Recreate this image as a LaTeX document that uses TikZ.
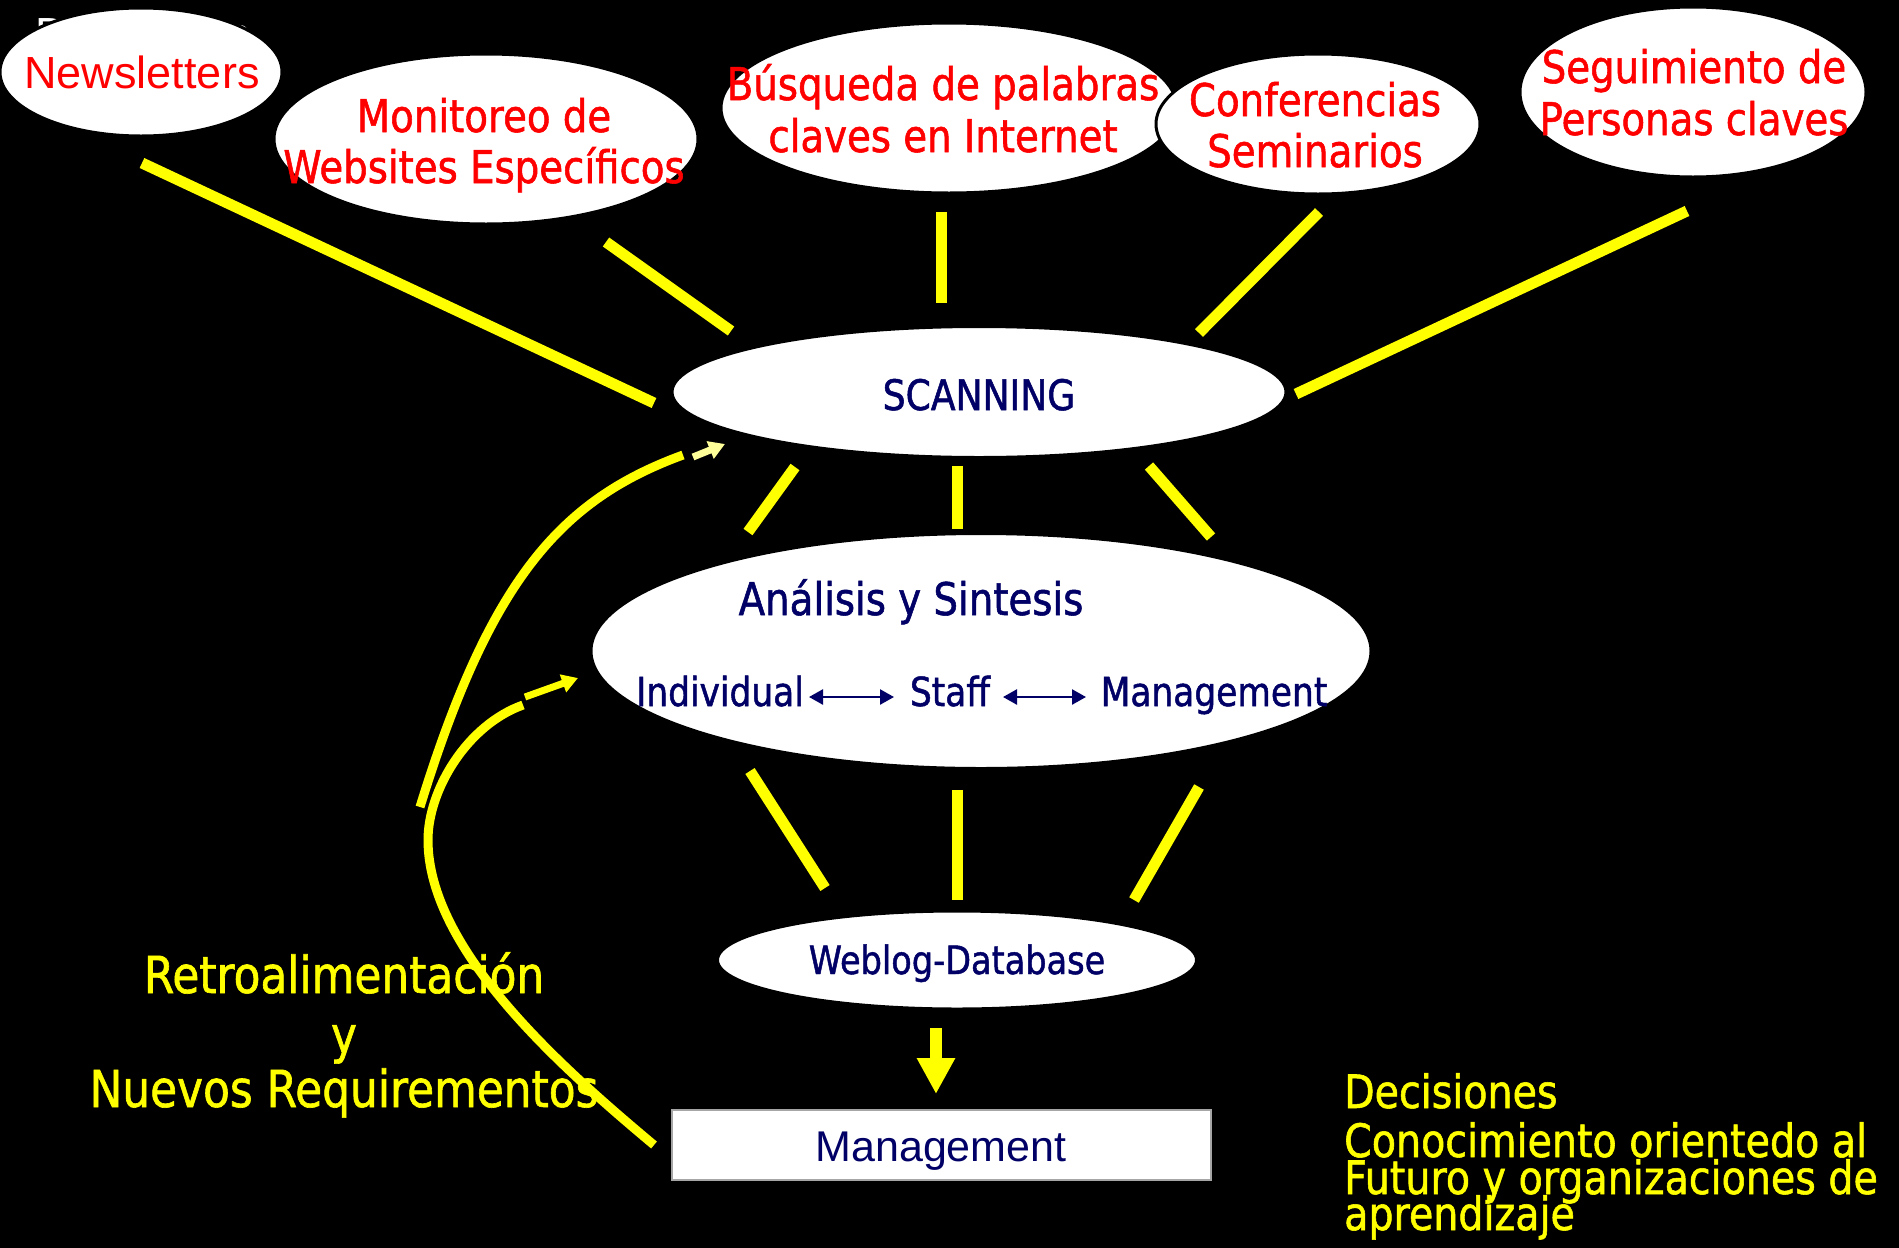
\documentclass[tikz,border=0pt]{standalone}
\usepackage{fontspec}
\setmainfont{DejaVu Sans}[FakeStretch=0.86,FakeBold=1.2]
\newfontfamily\arial{Liberation Sans}
\usetikzlibrary{arrows.meta,shapes.geometric}
\definecolor{navy}{RGB}{0,0,102}
\definecolor{ylw}{RGB}{255,255,0}
\definecolor{lylw}{RGB}{255,255,153}
\tikzset{
  ell/.style={ellipse, fill=white, draw=black, line width=3pt, inner sep=0pt},
  redtxt/.style={text=red, font=\fontsize{45}{51}\selectfont, anchor=base, inner sep=0pt},
  navtxt/.style={text=navy, anchor=base, inner sep=0pt},
  yltxt/.style={text=ylw, inner sep=0pt, font=\fontsize{51}{60}\selectfont, anchor=base},
  ytxt/.style={text=ylw, inner sep=0pt, font=\fontsize{46}{50}\selectfont, anchor=base west},
  ybar/.style={draw=ylw, line width=11pt},
  fbline/.style={draw=ylw, line width=9pt},
  navarrow/.style={draw=navy, line width=2.5pt, {Triangle[width=15pt,length=14pt]}-{Triangle[width=15pt,length=14pt]}},
}
\begin{document}
\begin{tikzpicture}[x=1pt,y=-1pt]
\useasboundingbox (0,0) rectangle (1899,1248);
\fill[black] (0,0) rectangle (1899,1248);

% hidden text behind Newsletters
\node[text=white, font=\arial\fontsize{45}{51}\selectfont, anchor=base west, inner sep=0pt] (hid) at (35,49) {Databases};

% top ellipses
\node[ell, minimum width=282pt, minimum height=128pt] (news) at (141,72) {};
\node[ell, minimum width=424pt, minimum height=170pt] (moni) at (486,139) {};
\node[ell, minimum width=456pt, minimum height=170pt] (busq) at (949,108) {};
\node[ell, minimum width=324pt, minimum height=140pt] (conf) at (1318,124) {};
\node[ell, minimum width=346pt, minimum height=170pt] (segu) at (1693,92) {};

\node[redtxt, font=\arial\fontsize{45}{51}\selectfont] (newsT) at (142,88) {Newsletters};
\node[redtxt] (moniT1) at (484,132) {Monitoreo de};
\node[redtxt] (moniT2) at (484,183) {Websites Específicos};
\node[redtxt] (busqT1) at (943,100) {Búsqueda de palabras};
\node[redtxt] (busqT2) at (943,152) {claves en Internet};
\node[redtxt] (confT1) at (1315,116) {Conferencias};
\node[redtxt] (confT2) at (1315,167) {Seminarios};
\node[redtxt] (seguT1) at (1694,83) {Seguimiento de};
\node[redtxt] (seguT2) at (1694,135) {Personas claves};

% scanning
\node[ell, minimum width=614pt, minimum height=131pt] (scan) at (979,392) {};
\node[navtxt, font=\fontsize{42}{48}\selectfont] (scanT) at (979,410) {SCANNING};

% analysis
\node[ell, minimum width=780pt, minimum height=235pt] (anal) at (981,651) {};
\node[navtxt, font=\fontsize{45}{51}\selectfont] (analT) at (911,615) {Análisis y Sintesis};
\node[navtxt, font=\fontsize{40}{46}\selectfont] (indi) at (720,706) {Individual};
\node[navtxt, font=\fontsize{40}{46}\selectfont] (staf) at (950,706) {Staff};
\node[navtxt, font=\fontsize{40}{46}\selectfont] (mgmt) at (1214,706) {Management};
\coordinate (a1s) at (809,697); \coordinate (a1e) at (894,697);
\coordinate (a2s) at (1003,697); \coordinate (a2e) at (1086,697);
\draw[navarrow] (a1s) -- (a1e);
\draw[navarrow] (a2s) -- (a2e);

% weblog
\node[ell, minimum width=479pt, minimum height=98pt] (webl) at (957,960) {};
\node[navtxt, font=\fontsize{39}{45}\selectfont] (weblT) at (957,974) {Weblog-Database};

% management box
\node[draw=gray!70, line width=1.5pt, fill=white, minimum width=539pt, minimum height=70pt, inner sep=0pt] (box) at (941.5,1145) {};
\node[navtxt, font=\arial\fontsize{43}{49}\selectfont] (boxT) at (941,1161) {Management};

% down arrow
\coordinate (da1) at (936,1028); \coordinate (da2) at (936,1094);
\draw[draw=ylw, line width=12pt, -{Triangle[width=36pt,length=36pt,fill=ylw]}] (da1) -- (da2);

% yellow rays
\coordinate (r1a) at (142,163); \coordinate (r1b) at (654,403);
\coordinate (r2a) at (606,242); \coordinate (r2b) at (731,331);
\coordinate (r3a) at (941,212); \coordinate (r3b) at (941,303);
\coordinate (r4a) at (1319,212); \coordinate (r4b) at (1199,333);
\coordinate (r5a) at (1687,211); \coordinate (r5b) at (1296,394);
\coordinate (r6a) at (795,467); \coordinate (r6b) at (748,532);
\coordinate (r7a) at (957,466); \coordinate (r7b) at (957,529);
\coordinate (r8a) at (1149,466); \coordinate (r8b) at (1211,537);
\coordinate (r9a) at (750,771); \coordinate (r9b) at (825,888);
\coordinate (r10a) at (957,790); \coordinate (r10b) at (957,900);
\coordinate (r11a) at (1199,787); \coordinate (r11b) at (1134,900);
\foreach \i in {1,...,11} \draw[ybar] (r\i a) -- (r\i b);

% texts
\node[yltxt] (retro1) at (344,993) {Retroalimentación};
\node[yltxt] (retro2) at (344,1053) {y};
\node[yltxt] (retro3) at (344,1107) {Nuevos Requirementos};

\node[ytxt] (dec1) at (1344,1108) {Decisiones};
\node[ytxt] (dec2) at (1344,1157) {Conocimiento orientedo al};
\node[ytxt] (dec3) at (1344,1194) {Futuro y organizaciones de};
\node[ytxt] (dec4) at (1344,1230) {aprendizaje};

% feedback curves
\coordinate (fa1) at (420,807); \coordinate (fa2) at (683,455);
\draw[fbline] (fa1) .. controls (490,580) and (560,500) .. (fa2);
\coordinate (fb1) at (654,1145); \coordinate (fbm) at (428,840); \coordinate (fb2) at (523,705);
\draw[fbline] (fb1) .. controls (562,1068) and (428,950) .. (fbm) .. controls (428,790) and (467,725) .. (fb2);
\coordinate (la1) at (693,457); \coordinate (la2) at (725,444);
\draw[draw=lylw, line width=7pt, -{Triangle[width=18pt,length=16pt,fill=lylw]}] (la1) -- (la2);
\coordinate (lb1) at (525,697); \coordinate (lb2) at (578,678);
\draw[draw=ylw, line width=7pt, -{Triangle[width=18pt,length=16pt,fill=ylw]}] (lb1) -- (lb2);
\end{tikzpicture}
\end{document}
